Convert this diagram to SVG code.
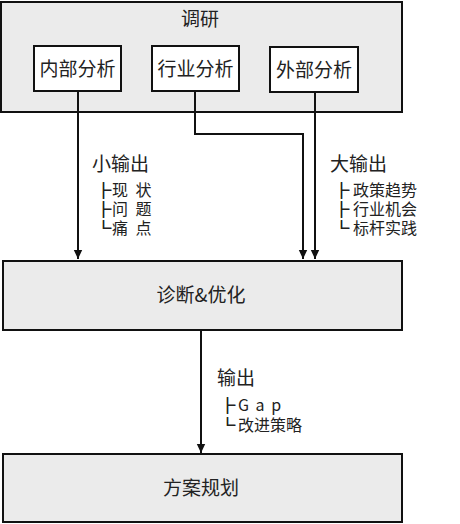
<svg xmlns="http://www.w3.org/2000/svg" width="460" height="524" viewBox="0 0 460 524">
<style>
.panel{fill:#ebebeb;stroke:#111;stroke-width:2}
.box{fill:#fff;stroke:#111;stroke-width:2}
.t{font-family:"Noto Sans CJK SC","Noto Sans",sans-serif;fill:#222;font-size:19px}
.c{text-anchor:middle}
.s{font-family:"Noto Sans CJK SC","Noto Sans",sans-serif;fill:#222;font-size:16px}
.b{font-family:"Noto Sans CJK SC","Noto Sans",sans-serif;fill:#222;stroke:#222;stroke-width:0.9;font-size:15px}
.ln{fill:none;stroke:#111;stroke-width:2}
</style>
<defs>
<marker id="arr" markerUnits="userSpaceOnUse" markerWidth="10" markerHeight="10" refX="9" refY="5" orient="auto">
<path d="M0,0.8 L9,5 L0,9.2 Z" fill="#111"/>
</marker>
</defs>
<rect width="460" height="524" fill="#fff"/>
<g id="research">
<rect class="panel" x="1" y="2" width="401" height="110"/>
<text class="t c" x="200" y="26">调研</text>
</g>
<g id="internal">
<rect class="box" x="34" y="46" width="87" height="45"/>
<text class="t c" x="77.5" y="76">内部分析</text>
</g>
<g id="industry">
<rect class="box" x="152" y="46" width="87" height="45"/>
<text class="t c" x="195.5" y="76">行业分析</text>
</g>
<g id="external">
<rect class="box" x="270" y="47" width="88" height="45"/>
<text class="t c" x="314" y="77">外部分析</text>
</g>
<g id="diagnosis">
<rect class="panel" x="3" y="261" width="399" height="69"/>
<text class="t c" x="201" y="302">诊断&amp;优化</text>
</g>
<g id="planning">
<rect class="panel" x="3" y="454" width="399" height="68"/>
<text class="t c" x="201" y="495">方案规划</text>
</g>
<g id="connectors">
<path class="ln" d="M78,92 V259" marker-end="url(#arr)"/>
<path class="ln" d="M195,92 V134 H303 V259" marker-end="url(#arr)"/>
<path class="ln" d="M315,93 V259" marker-end="url(#arr)"/>
<path class="ln" d="M201,331 V453" marker-end="url(#arr)"/>
</g>
<g id="labels">
<text class="t" x="92" y="171">小输出</text>
<text class="b" x="96" y="196">├</text>
<text class="s" x="112" y="196" letter-spacing="2">现 状</text>
<text class="b" x="96" y="215">├</text>
<text class="s" x="112" y="215" letter-spacing="2">问 题</text>
<text class="b" x="96" y="234">└</text>
<text class="s" x="112" y="234" letter-spacing="2">痛 点</text>
<text class="t" x="330" y="171">大输出</text>
<text class="b" x="334" y="196">├</text>
<text class="s" x="353" y="196">政策趋势</text>
<text class="b" x="334" y="215">├</text>
<text class="s" x="353" y="215">行业机会</text>
<text class="b" x="334" y="234">└</text>
<text class="s" x="353" y="234">标杆实践</text>
<text class="t" x="217" y="385">输出</text>
<text class="b" x="220" y="411">├</text>
<text class="s" x="238" y="411" letter-spacing="1.5">G a p</text>
<text class="b" x="220" y="431">└</text>
<text class="s" x="238" y="431">改进策略</text>
</g>
</svg>
